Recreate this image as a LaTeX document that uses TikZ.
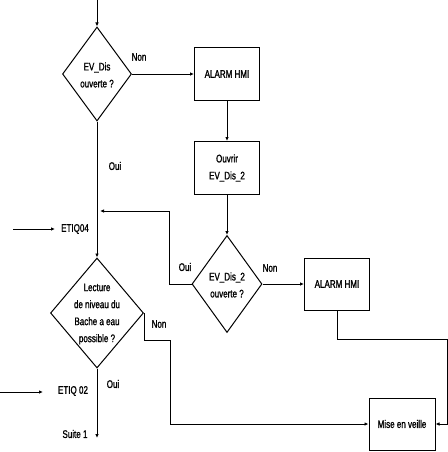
\documentclass[tikz,border=0pt]{standalone}
\usepackage{fontspec}
\setmainfont[FakeStretch=0.73,FakeBold=1.2]{Liberation Sans}
\usetikzlibrary{shapes.geometric,arrows.meta}
\begin{document}
\begin{tikzpicture}[x=1pt,y=-1pt,
  every node/.style={font=\fontsize{11}{17}\selectfont, inner sep=0pt},
  box/.style={draw, line width=1pt, minimum width=65pt, minimum height=52pt, align=center},
  dia/.style={draw, line width=1pt, diamond, aspect=0.7},
  txt/.style={align=center},
  lbl/.style={},
  conn/.style={line width=0.9pt},
  arr/.style={conn, -{Latex[length=4pt,width=3.5pt]}}
]
\useasboundingbox (0,0) rectangle (447,452);
% nodes
\coordinate (top) at (97,0);
\node[dia, minimum width=69pt, minimum height=94pt] (d1) at (97,74) {};
\node[txt] (d1t) at (97,75) {EV\_Dis\\ouverte ?};
\node[box] (a1) at (227,74) {ALARM HMI};
\node[box, minimum height=53pt] (o1) at (227,168) {Ouvrir\\EV\_Dis\_2};
\node[dia, minimum width=70pt, minimum height=97pt] (d2) at (227,284) {};
\node[txt] (d2t) at (227,285) {EV\_Dis\_2\\ouverte ?};
\node[box] (a2) at (337,284) {ALARM HMI};
\node[dia, minimum width=93pt, minimum height=110pt] (d3) at (97,313) {};
\node[txt] (d3t) at (97,314) {Lecture\\de niveau du\\Bache a eau\\possible ?};
\node[box, minimum width=66pt] (mv) at (402,424) {Mise en veille};
\coordinate (j1) at (97,211);
\coordinate (e4s) at (13,229);
\coordinate (e4e) at (55,229);
\node[lbl] (e4) at (75,229) {ETIQ04};
\coordinate (e2s) at (0,392);
\coordinate (e2e) at (43,392);
\node[lbl] (e2) at (73,391) {ETIQ 02};
\coordinate (s1) at (97,438);
\node[lbl] (s1t) at (75,434) {Suite 1};
% labels
\node[lbl] (n1) at (139,57) {Non};
\node[lbl] (y1) at (115,166) {Oui};
\node[lbl] (n2) at (270,268) {Non};
\node[lbl] (y2) at (185,267) {Oui};
\node[lbl] (n3) at (159,324) {Non};
\node[lbl] (y3) at (113,384) {Oui};
% connectors
\draw[arr] (top) -- (d1.north);
\draw[arr] (d1.east) -- (a1.west);
\draw[arr] (a1.south) -- (o1.north);
\draw[arr] (o1.south) -- (d2.north);
\draw[arr] (d1.south) -- (d3.north);
\draw[arr] (d2.west) -| (169,211) -- (j1 -| 100,0);
\draw[arr] (d2.east) -- (a2.west);
\draw[arr] (a2.south) |- (447,339) |- (mv.east);
\draw[arr] (d3.east) |- (170,340) |- (mv.west);
\draw[arr] (d3.south) -- (s1);
\draw[arr] (e4s) -- (e4e);
\draw[arr] (e2s) -- (e2e);
\end{tikzpicture}
\end{document}
